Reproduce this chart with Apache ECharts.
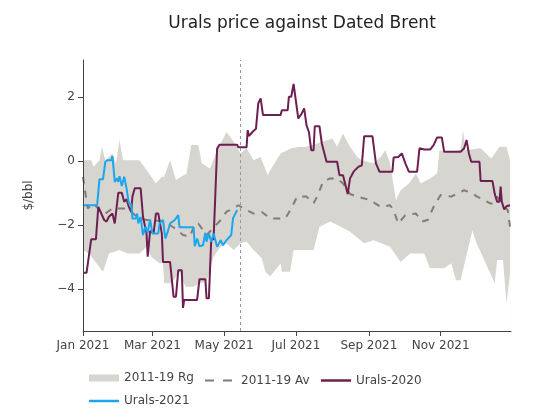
<!DOCTYPE html>
<html>
<head>
<meta charset="utf-8">
<script src="https://cdn.jsdelivr.net/npm/echarts@6/dist/echarts.min.js"></script>
<style>html,body{margin:0;padding:0;background:#fff}#c{width:560px;height:420px}</style>
</head>
<body>
<div id="c"></div>
<script>
// Day offsets are counted from 1 Jan 2021
var rangeUpperDays = [0,7,9,14,16,19,25,28,31,34,48,54,62,67,69,74,79,88,92,98,101,108,114,117,122,128,134,139,145,151,157,159,168,177,185,190,199,212,216,221,226,233,237,247,253,257,261,266,270,277,283,287,295,301,303,310,321,323,325,338,347,354,360,363];
var rangeUpperVals = [0.02,0.02,-0.19,0.02,0.44,0.02,0.23,-0.08,0.65,0.02,0.02,-0.29,-0.71,-0.5,-0.5,0.02,-0.6,-0.4,0.49,0.49,-0.08,-0.24,0.33,0.54,0.9,0.6,0.23,0.39,0.02,0.12,-0.45,-0.3,0.23,0.39,0.44,0.44,0.54,0.7,0.44,0.85,0.49,0.12,0.02,-0.08,0.12,0.33,-0.08,-1.23,-0.92,-0.71,-0.4,-0.71,-0.55,-0.4,0.33,0.28,0.33,0.96,0.33,0.39,0.07,0.44,0.44,0.02];

var rangeLowerDays = [0,5,17,22,31,38,48,54,58,65,68,69,75,82,87,94,99,105,111,117,122,128,134,139,145,152,155,159,168,169,176,177,179,196,201,210,219,227,239,247,261,270,278,290,295,307,313,317,321,327,331,334,350,352,357,360,363];
var rangeLowerVals = [-2.8,-2.9,-3.47,-2.9,-2.79,-2.9,-2.9,-2.69,-3.0,-3.2,-3.2,-3.83,-3.83,-3.47,-3.94,-3.94,-3.83,-3.78,-3.0,-2.69,-2.58,-2.79,-2.58,-2.53,-2.79,-3.05,-3.47,-3.62,-3.2,-3.47,-3.47,-3.52,-2.79,-2.79,-2.06,-1.9,-2.06,-2.22,-2.58,-2.48,-2.69,-3.16,-2.9,-2.9,-3.36,-3.36,-3.2,-3.73,-3.73,-2.79,-2.17,-2.53,-3.83,-3.1,-3.1,-4.46,-3.52];

var avgDays = [0,4,9,14,19,25,34,39,44,48,54,59,67,72,78,85,91,95,98,105,109,117,122,128,132,139,145,152,159,172,177,182,190,196,199,204,210,216,221,227,233,244,253,261,264,268,274,283,288,293,298,304,313,318,324,331,335,341,347,352,358,361,363];
var avgVals = [-0.5,-1.49,-1.33,-1.54,-1.65,-1.49,-1.49,-1.49,-1.7,-1.8,-1.85,-1.85,-1.9,-1.96,-2.11,-2.32,-2.37,-1.96,-1.96,-2.32,-2.17,-1.85,-1.59,-1.49,-1.39,-1.54,-1.65,-1.6,-1.8,-1.8,-1.49,-1.12,-1.12,-1.33,-1.12,-0.66,-0.55,-0.55,-0.71,-1.04,-1.12,-1.23,-1.44,-1.39,-1.54,-1.96,-1.7,-1.65,-1.9,-1.85,-1.44,-1.07,-1.12,-1.02,-0.92,-1.02,-1.12,-1.23,-1.35,-1.12,-1.44,-1.54,-2.06];

var urals2020Days = [0,3,7,11,13,14,18,20,22,25,27,30,33,35,37,39,41,42,44,49,51,54,55,57,60,62,64,67,68,74,77,79,81,84,85,86,97,99,104,105,107,109,111,114,116,131,132,139,140,141,144,147,149,151,153,168,169,174,175,177,179,183,186,188,190,192,194,196,197,201,203,207,216,218,221,222,225,227,230,234,237,239,246,249,252,263,264,268,271,274,277,284,286,290,295,298,301,305,307,321,324,326,328,330,337,338,348,350,352,354,355,356,358,360,363];
var urals2020Vals = [-3.5,-3.5,-2.45,-2.45,-1.44,-1.44,-1.85,-1.9,-1.75,-1.65,-1.96,-1.0,-1.0,-1.28,-1.2,-1.44,-1.6,-1.12,-0.86,-0.86,-1.75,-2.27,-3.0,-2.2,-2.27,-1.65,-1.65,-2.27,-3.16,-3.16,-4.25,-4.25,-3.42,-3.42,-4.6,-4.35,-4.35,-3.7,-3.7,-4.3,-4.3,-2.45,-2.45,0.38,0.5,0.5,0.42,0.42,0.96,0.77,0.9,1.0,1.8,1.95,1.43,1.43,1.58,1.58,2.0,2.0,2.4,1.32,1.48,1.64,1.11,0.9,0.33,0.33,1.08,1.08,0.54,-0.03,-0.03,-0.45,-0.45,-0.5,-1.04,-0.55,-0.34,-0.19,-0.14,0.77,0.77,-0.08,-0.34,-0.34,0.1,0.12,0.23,-0.08,-0.34,-0.34,0.39,0.35,0.35,0.49,0.73,0.73,0.28,0.28,0.39,0.65,0.23,-0.03,-0.03,-0.63,-0.63,-1.04,-1.28,-1.28,-0.81,-1.28,-1.52,-1.42,-1.39];

var urals2021Days = [0,12,14,17,19,21,24,25,27,29,30,31,33,35,37,39,41,42,45,46,47,49,51,53,55,57,59,64,65,68,70,72,74,78,81,82,94,95,97,99,102,104,105,107,109,111,114,117,119,122,126,127.5,131];
var urals2021Vals = [-1.39,-1.39,-0.58,-0.58,-0.03,0.02,0.02,0.15,-0.66,-0.55,-0.66,-0.48,-0.79,-0.5,-0.86,-1.33,-1.35,-1.8,-1.8,-1.65,-1.96,-1.75,-2.32,-2.06,-2.25,-1.83,-2.27,-2.27,-1.96,-1.85,-2.43,-2.22,-1.96,-1.85,-1.7,-2.08,-2.08,-2.67,-2.43,-2.67,-2.64,-2.25,-2.53,-2.27,-2.53,-2.27,-2.69,-2.48,-2.64,-2.48,-2.32,-1.8,-1.54];

var markerDay = 134; // vertical reference line (mid-May)
var xTickMonths = [0,2,4,6,8,10];
var monthNames = ['Jan','Feb','Mar','Apr','May','Jun','Jul','Aug','Sep','Oct','Nov','Dec'];
var yTicks = [-4,-2,0,2];

var DAY = 86400000;
var base = new Date(2021,0,1).getTime();
function pairs(days, vals){ return days.map(function(d,i){ return [base + d*DAY, vals[i]]; }); }
var xTickValues = xTickMonths.map(function(m){ return new Date(2021,m,1).getTime(); });

var FONT = 'DejaVu Sans';
var C_BAND = '#d6d5cf', C_AVG = '#847b76', C_20 = '#6e1f51', C_21 = '#1ba6ef';
var DASH_ICON = 'path://M0,0h9v2h-9zM18,0h9v2h-9z';

var chart = echarts.init(document.getElementById('c'), null, {renderer:'canvas'});
var legendCommon = {orient:'horizontal', itemWidth:30, padding:0, symbolKeepAspect:false,
  textStyle:{fontFamily:FONT, fontSize:12, color:'#444'}, selectedMode:false};
chart.setOption({
  animation:false,
  backgroundColor:'#fff',
  title:{text:'Urals price against Dated Brent', left:297, textAlign:'center', top:10,
    textStyle:{fontFamily:FONT, fontSize:17, fontWeight:'normal', color:'#222'}},
  grid:{left:83, right:49, top:60, bottom:89, containLabel:false},
  legend:[
    Object.assign({}, legendCommon, {data:[{name:'2011-19 Rg', icon:'rect'}], left:89, top:372, itemHeight:7}),
    Object.assign({}, legendCommon, {data:[{name:'2011-19 Av', icon:DASH_ICON}], left:205, top:374.5, itemWidth:27, itemHeight:2,
      textStyle:{fontFamily:FONT, fontSize:12, color:'#444', padding:[0,0,0,4]}}),
    Object.assign({}, legendCommon, {data:[{name:'Urals-2020', icon:'rect'}], left:321, top:374.5, itemHeight:2.5}),
    Object.assign({}, legendCommon, {data:[{name:'Urals-2021', icon:'rect'}], left:89, top:395, itemHeight:2.5})
  ],
  xAxis:{type:'value', min:base, max:base + 363.8*DAY, z:10,
    axisLine:{show:true, onZero:false, lineStyle:{color:'#444', width:1}},
    axisTick:{show:true, length:5, lineStyle:{color:'#444'}, customValues:xTickValues},
    axisLabel:{fontFamily:FONT, fontSize:12, color:'#444', margin:9, customValues:xTickValues,
      formatter:function(v){ var d=new Date(v); return monthNames[d.getMonth()]+' '+d.getFullYear(); }},
    splitLine:{show:false}},
  yAxis:{type:'value', min:-5.32, max:3.15, z:10,
    name:'$/bbl', nameLocation:'middle', nameGap:48, nameRotate:90,
    nameTextStyle:{fontFamily:FONT, fontSize:12, color:'#444'},
    axisLine:{show:true, lineStyle:{color:'#444', width:1}},
    axisTick:{show:true, length:5, lineStyle:{color:'#444'}, customValues:yTicks},
    axisLabel:{fontFamily:FONT, fontSize:12, color:'#444', margin:8, customValues:yTicks,
      formatter:function(v){ return String(v).replace('-','\u2212'); }},
    splitLine:{show:false}},
  series:[
    {name:'2011-19 Rg', type:'line', data:pairs(rangeUpperDays, rangeUpperVals), symbol:'none', z:1,
      itemStyle:{color:C_BAND}, lineStyle:{width:0, color:C_BAND},
      areaStyle:{color:C_BAND, opacity:1, origin:'start'}},
    {name:'_lower', type:'line', data:pairs(rangeLowerDays, rangeLowerVals), symbol:'none', z:1,
      itemStyle:{color:'#fff'}, lineStyle:{width:0, color:'#fff'},
      areaStyle:{color:'#fff', opacity:1, origin:'start'}},
    {name:'2011-19 Av', type:'line', data:pairs(avgDays, avgVals), symbol:'none', z:3,
      itemStyle:{color:C_AVG}, lineStyle:{width:2, color:C_AVG, type:[7,7]}},
    {name:'Urals-2020', type:'line', data:pairs(urals2020Days, urals2020Vals), symbol:'none', z:4,
      itemStyle:{color:C_20}, lineStyle:{width:2, color:C_20}},
    {name:'Urals-2021', type:'line', data:pairs(urals2021Days, urals2021Vals), symbol:'none', z:5,
      itemStyle:{color:C_21}, lineStyle:{width:2, color:C_21},
      markLine:{silent:true, symbol:'none', label:{show:false}, animation:false,
        lineStyle:{color:'#999', type:[3,3], width:1},
        data:[{xAxis: base + markerDay*DAY}]}}
  ]
});
</script>
</body>
</html>
